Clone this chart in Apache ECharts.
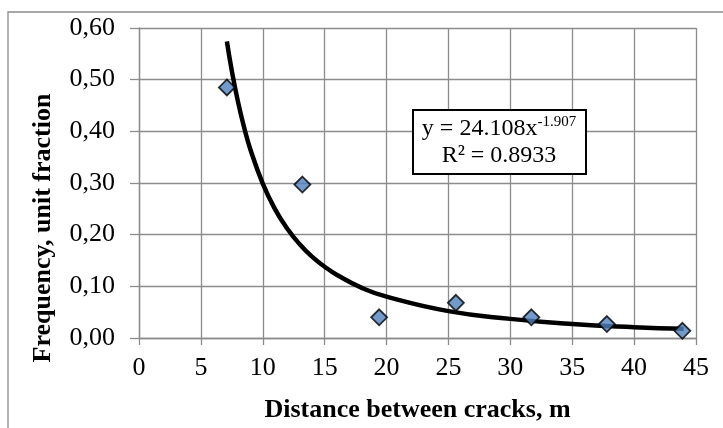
<!DOCTYPE html>
<html>
<head>
<meta charset="utf-8">
<script src="https://cdn.jsdelivr.net/npm/echarts@6/dist/echarts.min.js"></script>
<style>
  html, body { margin: 0; padding: 0; background: #fff; }
  #chart { width: 723px; height: 428px; }
</style>
</head>
<body>
<div id="chart"></div>
<script>
// measured points: distance between cracks (m) vs frequency
var distance = [7.1, 13.2, 19.4, 25.6, 31.7, 37.8, 43.9];
var frequency = [0.485, 0.297, 0.040, 0.068, 0.040, 0.027, 0.014];

// power trendline, values
var trendX = [7.1, 7.5, 8, 8.5, 9, 10, 11, 12, 13, 14, 15, 16, 18, 20, 25, 30, 35, 40, 44];
var trendY = [0.574, 0.517, 0.457, 0.407, 0.365, 0.299, 0.249, 0.211, 0.181, 0.157, 0.138, 0.122, 0.097, 0.080, 0.052, 0.037, 0.027, 0.021, 0.018];

var xTicks = [0, 5, 10, 15, 20, 25, 30, 35, 40, 45];
var yTicks = [0, 0.1, 0.2, 0.3, 0.4, 0.5, 0.6];

var font = 'Liberation Serif, Times New Roman, serif';
var gridColor = '#8c8c8c';

function pairs(xs, ys) {
  return xs.map(function (x, i) { return [x, ys[i]]; });
}

var myChart = echarts.init(document.getElementById('chart'));
var option = {
  animation: false,
  grid: { left: 139, right: 27, top: 28, bottom: 90 },
  xAxis: {
    type: 'value',
    min: xTicks[0],
    max: xTicks[xTicks.length - 1],
    interval: 5,
    name: 'Distance between cracks, m',
    nameLocation: 'middle',
    nameGap: 59,
    nameTextStyle: { fontFamily: font, fontSize: 26, fontWeight: 'bold', color: '#000' },
    axisLine: { show: true, onZero: false, lineStyle: { color: gridColor, width: 1.3 } },
    axisTick: { show: true, length: 7, lineStyle: { color: gridColor, width: 1.3 } },
    axisLabel: { fontFamily: font, fontSize: 26, color: '#000', margin: 17 },
    splitLine: { show: true, lineStyle: { color: gridColor, width: 1.3 } }
  },
  yAxis: {
    type: 'value',
    min: yTicks[0],
    max: yTicks[yTicks.length - 1],
    interval: 0.1,
    axisLine: { show: true, lineStyle: { color: gridColor, width: 1.3 } },
    axisTick: { show: true, length: 9, lineStyle: { color: gridColor, width: 1.3 } },
    axisLabel: {
      fontFamily: font, fontSize: 26, color: '#000', margin: 24,
      formatter: function (v) { return v.toFixed(2).replace('.', ','); }
    },
    splitLine: { show: true, lineStyle: { color: gridColor, width: 1.3 } }
  },
  series: [
    {
      type: 'line',
      data: pairs(trendX, trendY),
      smooth: true,
      showSymbol: false,
      lineStyle: { color: '#000', width: 4.5 },
      z: 2
    },
    {
      type: 'scatter',
      data: pairs(distance, frequency),
      symbol: 'diamond',
      symbolSize: 16,
      itemStyle: { color: '#4f81bd', borderColor: '#000', borderWidth: 1.8 },
      z: 3
    }
  ],
  graphic: [
    {
      type: 'rect',
      shape: { x: 8, y: 12, width: 740, height: 440 },
      style: { fill: 'none', stroke: '#8c8c8c', lineWidth: 1.3 },
      silent: true
    },
    {
      // y axis title sits lower than the plot centre in the original
      type: 'text',
      x: 43,
      y: 228,
      rotation: Math.PI / 2,
      style: {
        text: 'Frequency, unit fraction',
        fontFamily: font, fontSize: 26, fontWeight: 'bold', fill: '#000',
        align: 'center', verticalAlign: 'middle'
      }
    },
    {
      type: 'rect',
      shape: { x: 413, y: 110, width: 173, height: 64 },
      style: { fill: '#fff', stroke: '#000', lineWidth: 2 },
      z: 10
    },
    {
      type: 'text',
      x: 499,
      y: 142,
      z: 11,
      style: {
        text: '{a|y = 24.108x}{s|-1.907}\n{a|R² = 0.8933}',
        align: 'center',
        verticalAlign: 'middle',
        rich: {
          a: { fontFamily: font, fontSize: 24, color: '#000', lineHeight: 27 },
          s: { fontFamily: font, fontSize: 15, color: '#000', lineHeight: 27, verticalAlign: 'top', padding: [0, 0, 10, 0] }
        }
      }
    }
  ]
};

myChart.setOption(option);
window.onresize = myChart.resize;
</script>
</body>
</html>
